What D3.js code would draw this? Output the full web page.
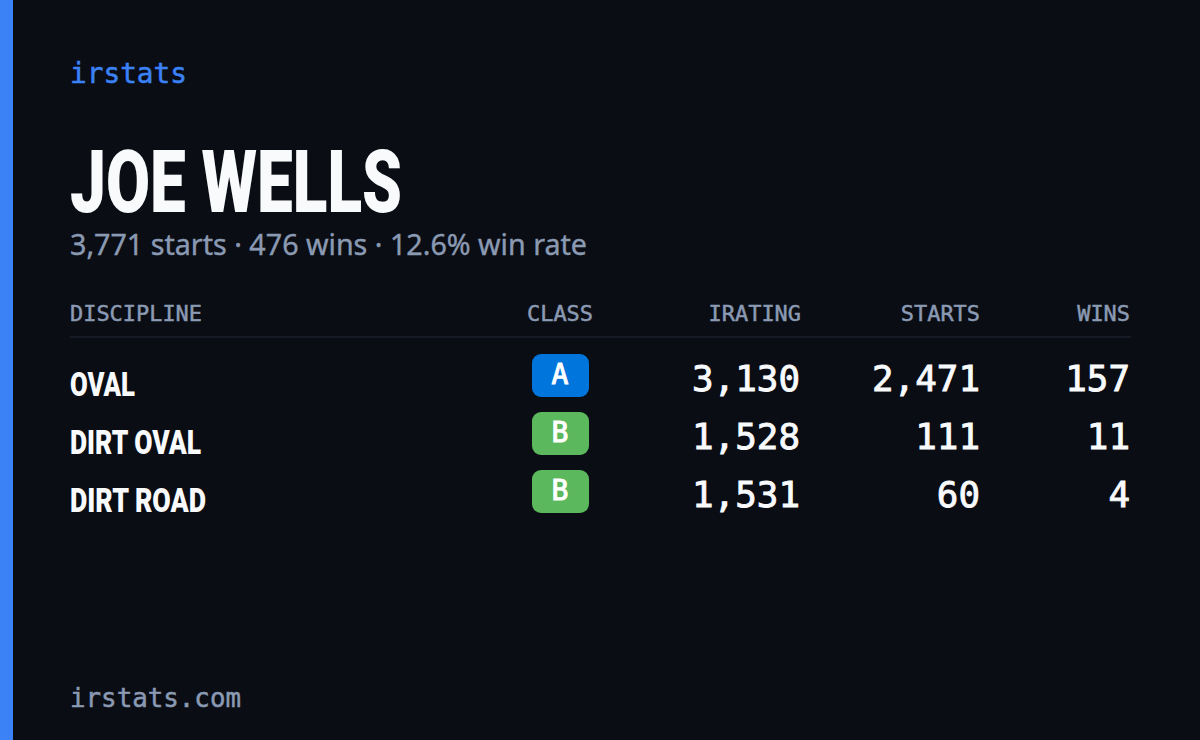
<!DOCTYPE html>
<html>
<head>
<meta charset="utf-8">
<script src="https://cdn.jsdelivr.net/npm/d3@7"></script>
<style>
  html, body { margin: 0; padding: 0; background: #0a0d14; }
  svg { display: block; }
</style>
</head>
<body>
<script>
const brand = "irstats";
const playerName = "JOE WELLS";
const summary = "3,771 starts · 476 wins · 12.6% win rate";
const footer = "irstats.com";
const columns = ["DISCIPLINE", "CLASS", "IRATING", "STARTS", "WINS"];
const disciplines = ["OVAL", "DIRT OVAL", "DIRT ROAD"];
const classes = ["A", "B", "B"];
const iratings = [3130, 1528, 1531];
const starts = [2471, 111, 60];
const wins = [157, 11, 4];
const classColor = { A: "#0075db", B: "#5cb85c" };

const width = 1200, height = 740;
const mono = "'DejaVu Sans Mono', monospace";
const condensed = "Roboto, sans-serif";
const fmt = d3.format(",");

const svg = d3.select("body").append("svg")
  .attr("width", width)
  .attr("height", height);

svg.append("rect").attr("width", width).attr("height", height).attr("fill", "#0a0d14");
svg.append("rect").attr("width", 13).attr("height", height).attr("fill", "#3b82f6");

// squeezes a string to the measured width, the installed fonts are all wider than the original
// thick is a thin outline, stands in for the medium weight the mono font does not have
function put(g, str, x, y, size, family, weight, fill, w, anchor, thick) {
  const t = g.append("text")
    .attr("x", x)
    .attr("y", y)
    .attr("font-family", family)
    .attr("font-size", size)
    .attr("font-weight", weight)
    .attr("fill", fill)
    .attr("text-anchor", anchor || "start")
    .text(str);
  if (w) t.attr("textLength", w).attr("lengthAdjust", "spacingAndGlyphs");
  if (thick) t.attr("stroke", fill).attr("stroke-width", thick);
  return t;
}

put(svg, brand, 70, 83, 28, mono, 400, "#3b82f6", 117, "start", 0.5);
put(svg, playerName, 70, 212, 87, condensed, 900, "#f8fafc", 332);
put(svg, summary, 70, 255, 29, "'Noto Sans', sans-serif", 400, "#8b9ab3", 517, "start", 0.4);
put(svg, footer, 70, 707, 26, mono, 400, "#8b9ab3", 171, "start", 0.5);

// columns
const xRight = d3.scaleOrdinal().domain(columns).range([70, 560, 801, 980, 1130]);
const anchors = d3.scaleOrdinal().domain(columns).range(["start", "middle", "end", "end", "end"]);

const head = svg.append("g");
columns.forEach(c => {
  put(head, c, xRight(c), 321, 22, mono, 400, "#8b9ab3", c.length * 13.2, anchors(c), 0.5);
});

svg.append("line")
  .attr("x1", 70).attr("x2", 1131)
  .attr("y1", 337).attr("y2", 337)
  .attr("stroke", "#161a24")
  .attr("stroke-width", 2);

// rows are 58px apart
const yRow = d3.scaleBand()
  .domain(d3.range(disciplines.length))
  .range([346, 520]);

const discWidths = [65, 131, 136];

const rows = svg.selectAll("g.row")
  .data(disciplines)
  .join("g")
  .attr("class", "row")
  .attr("transform", (d, i) => `translate(0,${yRow(i)})`);

rows.each(function (d, i) {
  const g = d3.select(this);
  put(g, d, 70, 50, 34, condensed, 900, "#f8fafc", discWidths[i]);

  g.append("rect")
    .attr("x", 532).attr("y", 8)
    .attr("width", 57).attr("height", 43)
    .attr("rx", 9)
    .attr("fill", classColor[classes[i]]);
  put(g, classes[i], 560, 38, 28, mono, 400, "#ffffff", null, "middle", 1);

  [iratings, starts, wins].forEach((vals, k) => {
    const s = fmt(vals[i]);
    put(g, s, xRight(columns[k + 2]) - (k === 0 ? 1 : 0), 45, 36, mono, 400, "#f8fafc", s.length * 21.6, "end", 0.9);
  });
});
</script>
</body>
</html>
